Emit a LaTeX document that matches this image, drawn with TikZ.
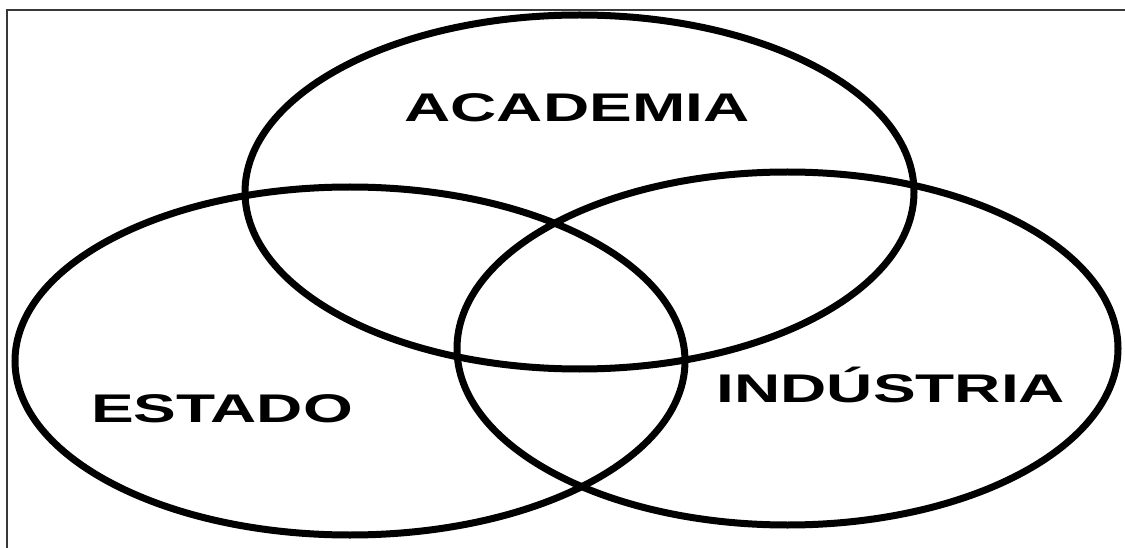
\documentclass[tikz,border=0pt]{standalone}
\usepackage{fontspec}
\setmainfont{Liberation Sans}
\usetikzlibrary{shapes.geometric}
\tikzset{
  set/.style={ellipse, draw=black, line width=7pt, inner sep=0pt},
  lbl/.style={anchor=base, inner sep=0pt, font=\fontsize{40}{40}\selectfont\bfseries},
  frame/.style={draw=black!78, line width=1.6pt}
}
\newcommand{\wide}[1]{\scalebox{1.6}[1]{#1}}
\begin{document}
\begin{tikzpicture}[x=1pt,y=-1pt]
\useasboundingbox (0,0) rectangle (1125,548);
\coordinate (fbl) at (7,548);
\coordinate (ftl) at (7,10);
\coordinate (ftr) at (1125,10);
\draw[frame] (fbl) -- (ftl) -- (ftr);
\node[set, minimum width=669pt, minimum height=354pt] (acad) at (579.5,192) {};
\node[set, minimum width=670pt, minimum height=348pt] (est) at (350,361) {};
\node[set, minimum width=661pt, minimum height=353pt] (ind) at (787.5,348.5) {};
\node[lbl] (lacad) at (577,122) {\wide{ACADEMIA}};
\node[lbl] (lest) at (222,422) {\wide{ESTADO}};
\node[lbl] (lind) at (891,402) {\wide{INDÚSTRIA}};
\end{tikzpicture}
\end{document}
